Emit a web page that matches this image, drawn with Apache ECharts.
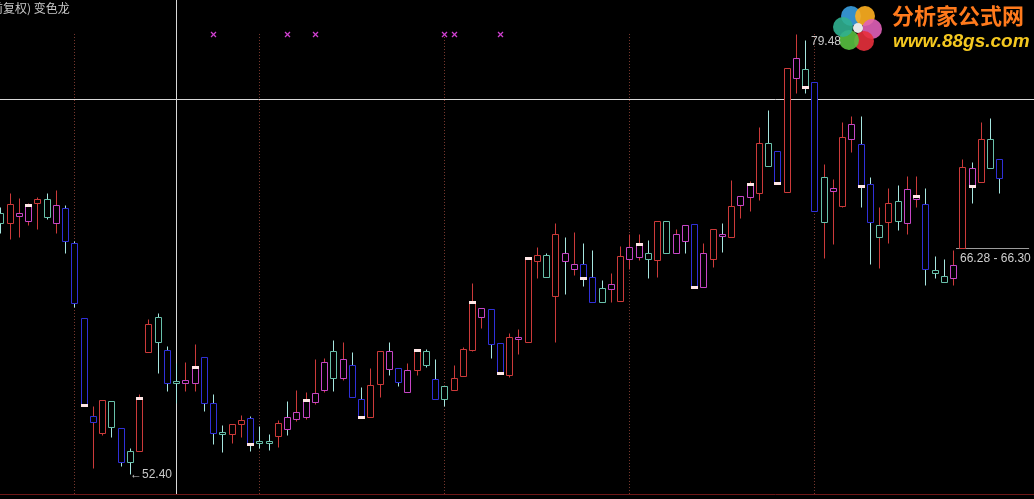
<!DOCTYPE html>
<html>
<head>
<meta charset="utf-8">
<script src="https://cdn.jsdelivr.net/npm/echarts@6/dist/echarts.min.js"></script>
<style>
html,body{margin:0;padding:0;background:#000;}
#chart{width:1034px;height:499px;}
</style>
</head>
<body>
<div id="chart"></div>
<script>
// ---- data ----
const openP = [68.46,67.85,68.28,67.97,69.08,69.32,67.85,68.77,66.62,62.00,
55.60,54.92,56.89,55.23,53.82,53.82,59.91,62.06,60.03,58.12,
58.00,58.00,59.60,56.77,54.98,54.86,55.48,55.85,54.43,54.43,
54.74,55.91,55.78,55.91,56.83,57.57,59.97,58.31,59.11,57.02,
55.91,57.94,59.97,58.92,57.45,58.80,59.97,58.25,57.82,57.57,
58.43,60.03,62.06,62.55,60.46,58.49,60.77,60.52,65.51,65.88,
63.35,66.00,65.02,65.32,64.52,63.85,63.78,63.05,65.63,65.75,
66.00,65.57,67.97,66.00,67.72,67.78,63.91,65.63,67.17,66.98,
68.95,69.45,69.69,72.77,72.28,69.75,76.77,77.32,76.52,67.91,
69.82,68.89,73.02,72.71,70.25,66.98,67.91,69.20,67.85,69.32,
69.02,64.95,64.58,64.46,66.30,71.23,70.37,73.02,71.78];
const highP = [68.83,69.69,69.38,69.08,69.45,69.69,69.88,68.95,66.74,62.00,
56.58,56.95,56.89,55.23,54.00,57.32,61.94,62.31,60.28,59.23,
59.29,60.40,59.60,57.32,55.42,55.48,56.03,55.97,55.35,54.86,
55.72,56.89,57.57,57.45,59.48,59.54,60.65,60.52,59.91,57.75,
58.92,59.97,60.52,58.92,59.23,60.09,60.09,59.48,57.82,59.11,
60.22,64.15,62.62,62.55,60.46,61.08,61.32,65.69,66.37,66.00,
67.85,66.98,67.29,66.62,66.18,64.34,64.77,66.43,67.17,67.17,
66.80,67.97,67.97,67.48,67.72,67.78,66.62,67.48,67.85,70.49,
69.51,70.43,73.75,74.80,72.28,77.38,79.48,79.11,76.52,71.48,
70.55,74.06,74.43,74.43,70.68,68.83,70.00,70.18,70.74,70.74,
70.00,65.82,65.63,66.18,71.78,71.60,74.06,74.31,71.78];
const lowP = [67.23,66.86,66.98,67.72,67.48,68.09,67.23,66.00,62.68,56.65,
52.77,54.80,54.68,52.89,52.40,53.82,59.91,58.62,57.51,56.77,
57.51,57.51,56.28,54.25,53.75,54.31,54.68,53.82,54.00,53.88,
54.06,54.80,55.66,55.78,56.71,57.45,57.51,58.18,57.14,55.91,
55.91,57.14,58.49,57.82,57.45,58.49,58.98,57.02,56.58,57.57,
58.43,59.97,61.38,59.54,58.62,58.37,59.78,60.52,64.46,64.52,
60.52,63.48,64.65,63.97,62.98,62.98,62.98,63.05,65.02,65.57,
64.46,64.52,66.00,66.00,66.00,63.91,63.91,65.14,66.06,66.98,
68.15,68.58,69.26,71.35,70.25,69.75,75.85,75.85,68.58,65.69,
66.55,68.83,72.22,68.83,65.32,65.08,66.62,67.42,67.17,68.83,
64.03,64.46,64.22,64.03,66.28,69.08,70.37,71.23,69.69];
const closeP = [67.85,69.02,68.46,68.89,69.32,68.22,68.95,66.74,62.92,56.65,
55.97,56.95,55.29,53.14,53.14,57.02,61.63,60.52,58.00,58.00,
58.18,58.92,56.77,54.92,54.86,55.48,55.72,54.25,54.31,54.31,
55.54,55.17,56.22,56.89,57.38,59.29,58.31,59.48,57.14,55.91,
57.88,59.97,58.86,58.06,58.80,59.97,59.11,57.02,57.02,58.31,
60.09,62.92,62.62,60.40,58.62,60.83,60.83,65.63,65.88,64.52,
67.17,65.51,65.32,64.46,62.98,62.98,64.09,65.82,66.37,66.49,
65.63,67.97,66.00,67.17,66.74,63.91,66.00,67.48,67.05,68.89,
69.51,70.18,72.77,71.35,70.31,77.38,78.00,76.22,68.58,70.68,
70.00,73.14,73.94,70.12,67.91,67.72,69.08,67.97,69.94,69.45,
65.02,64.77,64.22,65.26,71.29,70.12,73.02,71.23,70.62];
// indicator colour of each candle body: r red, b blue, c cyan, m magenta
const bodyColor = ['c','r','m','m','r','c','m','b','b','b',
'b','r','c','b','c','r','r','c','b','c',
'm','m','b','b','c','r','r','b','c','c',
'r','m','m','m','m','m','c','m','b','b',
'r','r','m','b','m','r','c','b','c','r',
'r','r','m','b','b','r','m','r','r','c',
'r','m','m','b','b','c','m','r','m','m',
'c','r','c','m','m','b','m','r','m','r',
'm','m','r','c','b','r','m','c','b','c',
'm','r','m','b','b','c','r','c','m','m',
'b','c','c','m','r','m','r','c','b'];
const categories = openP.map((_, i) => 'K' + (i + 1));   // bar numbers (dates not shown)
const closeMarks = [3,9,15,21,27,33,39,45,51,54,57,63,69,75,81,84,87,93,99,105];
const crossSignals = [23,31,34,48,49,54];
const crossLevel = 79.48;
const monthStarts = [8,28,48,68,88];
const cursorIndex = 19;
const cursorPrice = 75.45;
const readoutIndex = 104;
const readoutPrice = 66.29;
const readoutText = '66.28 - 66.30';
const titleText = '(前复权) 变色龙';

// ---- styles / layout ----
const palette = {r:'#cc3a3a', b:'#3030d8', c:'#68c0aa', m:'#c646c6'};
const wickUp = '#cc3a3a', wickDown = '#a6e6e0', markColor = '#ffe6e6';
const yMin = 51.17, yMax = 81.57;
const xMin = -0.054, xMax = 111.73;
const readoutLead = 0.7, readoutSpan = 7.9;

let hiIdx = 0, loIdx = 0;
highP.forEach((v, i) => { if (v > highP[hiIdx]) hiIdx = i; });
lowP.forEach((v, i) => { if (v < lowP[loIdx]) loIdx = i; });

function renderCandle(params, api) {
  const idx = api.value(0);
  const o = api.value(1), c = api.value(2), lo = api.value(3), hi = api.value(4);
  const col = palette[bodyColor[idx]];
  const pO = api.coord([idx, o]), pC = api.coord([idx, c]);
  const pL = api.coord([idx, lo]), pH = api.coord([idx, hi]);
  const cx = Math.round(pO[0]) + 0.5;
  const up = c >= o;
  let top = Math.round(Math.min(pO[1], pC[1])) + 0.5;
  let bot = Math.round(Math.max(pO[1], pC[1])) + 0.5;
  if (bot - top < 2) bot = top + 2;
  const half = 3;
  const children = [
    {type:'line', shape:{x1:cx, y1:Math.round(pH[1]) + 0.5, x2:cx, y2:Math.round(pL[1]) + 0.5},
     style:{stroke: up ? wickUp : wickDown, lineWidth:1}},
    {type:'rect', shape:{x:cx - half, y:top, width:half * 2, height:bot - top},
     style:{fill:'#000', stroke:col, lineWidth:1}}
  ];
  if (closeMarks.indexOf(idx) >= 0) {
    const yc = Math.round(pC[1]);
    children.push({type:'rect', shape:{x:cx - half - 0.5, y: up ? yc - 2 : yc - 1, width:half * 2 + 1, height:3},
      style:{fill:markColor}});
  }
  return {type:'group', children};
}

function renderCross(params, api) {
  const p = api.coord([api.value(0), api.value(1)]);
  const x = Math.round(p[0]) + 0.5, y = Math.round(p[1]) + 0.5, s = 2.5;
  return {type:'group', children:[
    {type:'line', shape:{x1:x - s, y1:y - s, x2:x + s, y2:y + s}, style:{stroke:'#d040d0', lineWidth:1.3}},
    {type:'line', shape:{x1:x - s, y1:y + s, x2:x + s, y2:y - s}, style:{stroke:'#d040d0', lineWidth:1.3}}
  ]};
}

const dotted = {color:'#7c3a30', type:[1, 2], width:1};
const guideLines = monthStarts.map(i => [
  {coord:[i, crossLevel], lineStyle:dotted},
  {coord:[i, yMin]}
]);
const cursorLines = [
  {xAxis: cursorIndex, lineStyle:{color:'#d8d8d8', type:'solid', width:1}},
  {yAxis: cursorPrice, lineStyle:{color:'#d8d8d8', type:'solid', width:1}},
  [
    {coord:[readoutIndex - readoutLead, readoutPrice], lineStyle:{color:'#9c9c9c', type:'solid', width:1},
     label:{show:true, formatter:readoutText, position:'insideStartBottom', distance:4,
            color:'#d0d0d0', fontSize:12, fontFamily:'Liberation Sans'}},
    {coord:[readoutIndex - readoutLead + readoutSpan, readoutPrice]}
  ]
];

const chart = echarts.init(document.getElementById('chart'), null, {renderer:'canvas'});
chart.setOption({
  backgroundColor:'#000',
  animation:false,
  grid:{left:0, top:0, right:0, height:494, containLabel:false},
  xAxis:{type:'value', min:xMin, max:xMax,
    axisLine:{show:true, onZero:false, lineStyle:{color:'#6e1818', width:1}},
    axisTick:{show:false}, axisLabel:{show:false}, splitLine:{show:false}},
  yAxis:{type:'value', min:yMin, max:yMax, show:false, splitLine:{show:false}},
  series:[
    {type:'line', data:[], silent:true, zlevel:0,
     markLine:{silent:true, symbol:['none','none'], animation:false, label:{show:false}, data:guideLines}},
    {type:'custom', renderItem:renderCandle, encode:{x:0, y:[1,2,3,4]}, zlevel:1,
     data:openP.map((o, i) => [i, o, closeP[i], lowP[i], highP[i], categories[i]])},
    {type:'custom', renderItem:renderCross, encode:{x:0, y:1}, zlevel:1,
     data:crossSignals.map(i => [i, crossLevel])},
    {type:'line', data:[], silent:true, zlevel:2,
     markLine:{silent:true, symbol:['none','none'], animation:false, label:{show:false}, data:cursorLines},
     markPoint:{silent:true, symbol:'circle', symbolSize:0, animation:false, data:[
       {coord:[hiIdx, highP[hiIdx]], value:highP[hiIdx],
        label:{show:true, position:'right', distance:15, offset:[0, 8], formatter:highP[hiIdx].toFixed(2),
               color:'#c8c8c8', fontSize:12, fontFamily:'Liberation Sans'}},
       {coord:[loIdx, lowP[loIdx]], value:lowP[loIdx],
        label:{show:true, position:'right', distance:0, offset:[0, 1], formatter:'←' + lowP[loIdx].toFixed(2),
               color:'#c8c8c8', fontSize:12, fontFamily:'Liberation Sans, DejaVu Sans'}}
     ]}}
  ],
  graphic:[
    {type:'text', x:-13, y:2, style:{text:titleText, fill:'#c8c8c8', fontSize:12, fontFamily:'Noto Sans CJK SC'}},
    {type:'group', children:[
      {type:'circle', shape:{cx:851, cy:16, r:10}, style:{fill:'#3a9ee0', opacity:0.9}},
      {type:'circle', shape:{cx:865, cy:16, r:10}, style:{fill:'#ffb020', opacity:0.9}},
      {type:'circle', shape:{cx:872, cy:29, r:10}, style:{fill:'#e060b8', opacity:0.9}},
      {type:'circle', shape:{cx:864, cy:41, r:10}, style:{fill:'#e8303c', opacity:0.9}},
      {type:'circle', shape:{cx:849, cy:40, r:10}, style:{fill:'#58c040', opacity:0.9}},
      {type:'circle', shape:{cx:843, cy:27, r:10}, style:{fill:'#30b090', opacity:0.9}},
      {type:'circle', shape:{cx:858, cy:28, r:5}, style:{fill:'#e8e8e8'}}
    ]},
    {type:'text', x:892, y:5, style:{text:'分析家公式网', fontSize:22, fontWeight:'bold',
      fontFamily:'Noto Sans CJK SC', fill:'#ff7a1c'}},
    {type:'text', x:893, y:32, style:{text:'www.88gs.com', fontSize:19, fontWeight:'bold', fontStyle:'italic',
      fontFamily:'Liberation Sans', fill:'#f4c820'}}
  ]
});
</script>
</body>
</html>
